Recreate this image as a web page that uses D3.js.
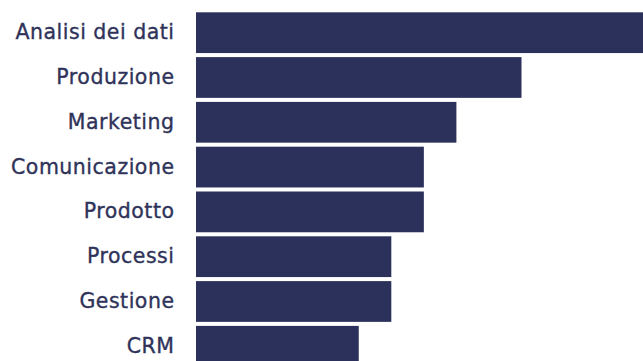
<!DOCTYPE html>
<html>
<head>
<meta charset="utf-8">
<script src="https://cdn.jsdelivr.net/npm/d3@7"></script>
<style>
  html, body { margin: 0; padding: 0; background: #ffffff; }
  svg { display: block; }
</style>
</head>
<body>
<svg id="chart" width="643" height="361"></svg>
<script>
// Aree di competenza, in ordine decrescente
const categories = [
  "Analisi dei dati",
  "Produzione",
  "Marketing",
  "Comunicazione",
  "Prodotto",
  "Processi",
  "Gestione",
  "CRM"
];
const values = [14, 10, 8, 7, 7, 6, 6, 5];

const width = 643, height = 361;
const barLeft = 196;
const barColor = "#2c315b";
const textColor = "#2f3359";

const svg = d3.select("#chart");

const x = d3.scaleLinear()
  .domain([0, 10])
  .range([barLeft, barLeft + 325.5]);

const y = d3.scaleBand()
  .domain(categories)
  .range([12.3, 12.3 + 44.8 * (categories.length - 0.09)])
  .paddingInner(0.09)
  .paddingOuter(0);

const data = categories.map((c, i) => ({ category: c, value: values[i] }));

svg.append("g")
  .selectAll("rect")
  .data(data)
  .join("rect")
  .attr("x", x(0))
  .attr("y", d => y(d.category))
  .attr("width", d => x(d.value) - x(0))
  .attr("height", y.bandwidth())
  .attr("fill", barColor);

// Etichette delle categorie, allineate a destra prima delle barre
const yAxis = d3.axisLeft(y).tickSize(0).tickPadding(21.5);
const axisG = svg.append("g")
  .attr("transform", `translate(${barLeft},0)`)
  .call(yAxis);
axisG.select(".domain").remove();
axisG.selectAll("text")
  .attr("fill", textColor)
  .attr("stroke", textColor)
  .attr("stroke-width", 0.35)
  .attr("font-family", "'DejaVu Sans', sans-serif")
  .attr("font-size", 20.5)
  .attr("letter-spacing", 0.5)
  .attr("dy", "0.32em");
</script>
</body>
</html>
